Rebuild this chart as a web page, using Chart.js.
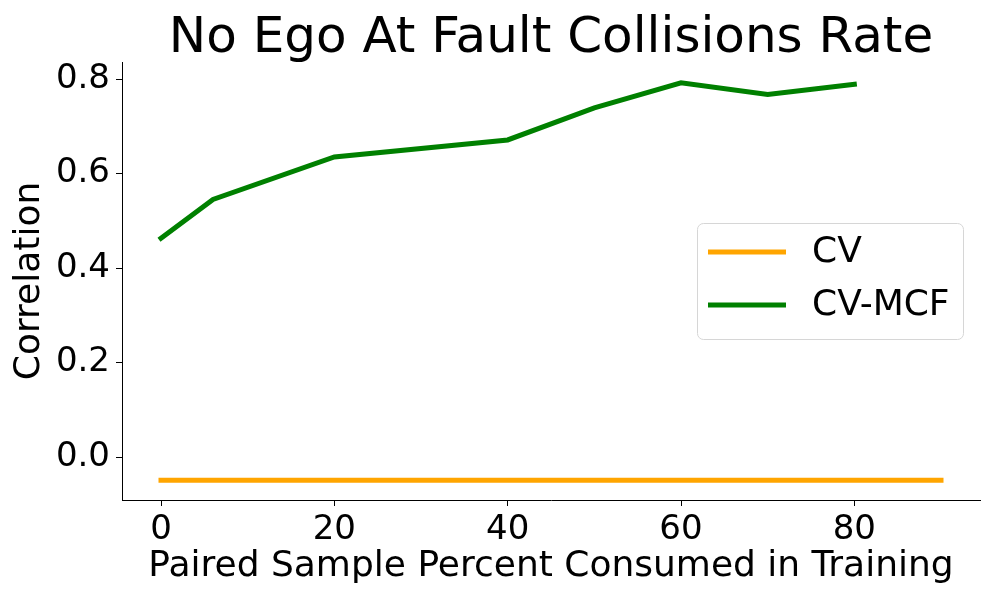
<!DOCTYPE html>
<html>
<head>
<meta charset="utf-8">
<script src="https://cdn.jsdelivr.net/npm/chart.js@4.4.0/dist/chart.umd.min.js"></script>
<style>
  html, body { margin: 0; padding: 0; background: #fff; }
  #myChart { display: block; }
</style>
</head>
<body>
<canvas id="myChart" width="997" height="598"></canvas>
<script>
const ctx = document.getElementById('myChart');

// data
const cvX = [0, 10, 20, 30, 40, 50, 60, 70, 80, 90];
const cvY = [-0.049, -0.049, -0.049, -0.049, -0.049, -0.049, -0.049, -0.049, -0.049, -0.049];
const mcfX = [0, 6, 20, 40, 50, 60, 70, 80];
const mcfY = [0.463, 0.545, 0.635, 0.671, 0.739, 0.792, 0.767, 0.789];
const xTicks = [0, 20, 40, 60, 80];
const yTicks = [0.0, 0.2, 0.4, 0.6, 0.8];
const titleText = 'No Ego At Fault Collisions Rate';

const FONT = "'DejaVu Sans', sans-serif";

function toPoints(xs, ys) {
    return xs.map((x, i) => ({ x: x, y: ys[i] }));
}

// title centred over the plot area, like matplotlib
const plotTitle = {
    id: 'plotTitle',
    afterDraw(chart) {
        const c = chart.ctx;
        const a = chart.chartArea;
        c.save();
        c.font = '50px ' + FONT;
        c.fillStyle = '#000';
        c.textAlign = 'center';
        c.textBaseline = 'alphabetic';
        c.fillText(titleText, (a.left + a.right) / 2, 52);
        c.restore();
    }
};

// legend drawn inside the plot like matplotlib's
const insideLegend = {
    id: 'insideLegend',
    afterDraw(chart) {
        const c = chart.ctx;
        const x0 = 697, y0 = 223, w = 266, h = 116, r = 6;
        c.save();
        c.beginPath();
        c.roundRect(x0 + 0.5, y0 + 0.5, w, h, r);
        c.fillStyle = 'rgba(255,255,255,0.8)';
        c.fill();
        c.strokeStyle = '#d6d6d6';
        c.lineWidth = 1;
        c.stroke();
        c.font = '36px ' + FONT;
        c.textBaseline = 'middle';
        c.fillStyle = '#000';
        chart.data.datasets.forEach((ds, i) => {
            const y = 252 + i * 53;
            c.beginPath();
            c.moveTo(708, y);
            c.lineTo(786, y);
            c.strokeStyle = ds.borderColor;
            c.lineWidth = 5;
            c.stroke();
            c.fillText(ds.label, 812, y + 1);
        });
        c.restore();
    }
};

new Chart(ctx, {
    type: 'line',
    data: {
        datasets: [
            {
                label: 'CV',
                data: toPoints(cvX, cvY),
                borderColor: '#FFA500',
                backgroundColor: '#FFA500',
                borderWidth: 5,
                borderCapStyle: 'square',
                pointRadius: 0,
            },
            {
                label: 'CV-MCF',
                data: toPoints(mcfX, mcfY),
                borderColor: '#008000',
                backgroundColor: '#008000',
                borderWidth: 5,
                borderCapStyle: 'square',
                pointRadius: 0,
            }
        ]
    },
    options: {
        responsive: false,
        animation: false,
        maintainAspectRatio: false,
        layout: {
            padding: { top: 62, right: 17, bottom: 0, left: 0 }
        },
        plugins: {
            legend: { display: false },
            tooltip: { enabled: false },
            title: { display: false }
        },
        scales: {
            x: {
                type: 'linear',
                min: -4.5,
                max: 94.5,
                afterFit(scale) { scale.height = 98; },
                afterBuildTicks(scale) { scale.ticks = xTicks.map(v => ({ value: v })); },
                grid: {
                    drawOnChartArea: false,
                    drawTicks: true,
                    tickLength: 6,
                    color: '#000'
                },
                border: { display: true, color: '#000', width: 1 },
                ticks: {
                    color: '#000',
                    padding: 4,
                    maxRotation: 0,
                    font: { family: FONT, size: 34 },
                    callback: v => String(v)
                },
                title: {
                    display: true,
                    text: 'Paired Sample Percent Consumed in Training',
                    color: '#000',
                    font: { family: FONT, size: 36, lineHeight: 1.2 },
                    padding: { top: 0, bottom: 10 }
                }
            },
            y: {
                type: 'linear',
                min: -0.091,
                max: 0.836,
                afterFit(scale) { scale.width = 122; },
                afterBuildTicks(scale) { scale.ticks = yTicks.map(v => ({ value: v })); },
                grid: {
                    drawOnChartArea: false,
                    drawTicks: true,
                    tickLength: 6,
                    color: '#000'
                },
                border: { display: true, color: '#000', width: 1 },
                ticks: {
                    color: '#000',
                    padding: 6,
                    font: { family: FONT, size: 34 },
                    callback: v => v.toFixed(1)
                },
                title: {
                    display: true,
                    text: 'Correlation',
                    color: '#000',
                    font: { family: FONT, size: 36, lineHeight: 1.2 },
                    padding: { top: 8, bottom: 0 }
                }
            }
        }
    },
    plugins: [plotTitle, insideLegend]
});
</script>
</body>
</html>
